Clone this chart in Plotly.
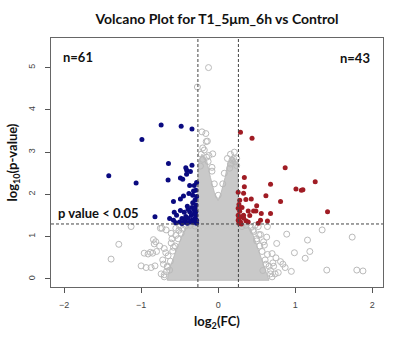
import plotly.graph_objects as go

# Significant down-regulated proteins (log2 FC, -log10 p)
down_fc = [-0.74, -0.48, -0.34, -0.99, -0.645, -0.42, -0.34, -1.42, -1.065, -0.65,
           -0.41, -0.36, -0.41, -0.49, -0.46, -0.37, -0.31, -0.32, -0.29, -0.45,
           -0.49, -0.58, -0.30, -0.33, -0.29, -0.34, -0.31, -0.57, -0.44, -0.37,
           -0.29, -0.82, -0.63, -0.58, -0.54, -0.47, -0.43, -0.39, -0.34, -0.30,
           -0.28, -0.50, -0.44, -0.36, -0.32, -0.28, -0.40, -0.47, -0.55, -0.29,
           -0.35, -0.42, -0.30, -0.40, -0.28, -0.33, -0.38, -0.28, -0.31, -0.49, -0.39]
down_p = [3.64, 3.61, 3.55, 3.30, 2.73, 2.63, 2.69, 2.44, 2.27, 2.34,
          2.58, 2.54, 2.48, 2.39, 2.36, 2.21, 2.21, 2.08, 2.10, 1.96,
          1.89, 1.83, 1.87, 1.80, 1.75, 1.69, 1.63, 1.58, 1.58, 1.59,
          1.59, 1.47, 1.43, 1.39, 1.51, 1.43, 1.39, 1.43, 1.39, 1.43,
          1.39, 1.35, 1.34, 1.35, 1.34, 1.32, 1.32, 1.31, 1.33, 1.50,
          1.50, 1.48, 1.68, 1.72, 1.95, 1.98, 2.02, 2.28, 1.55, 1.62, 1.65]

# Significant up-regulated proteins
up_fc = [0.29, 0.44, 0.87, 0.34, 0.68, 1.26, 1.01, 1.08, 1.10, 0.34,
         0.26, 0.33, 0.62, 0.36, 0.43, 0.81, 0.50, 1.42, 0.26, 0.31,
         0.39, 0.46, 0.49, 0.56, 0.68, 0.26, 0.33, 0.41, 0.55, 0.64,
         0.52, 0.26, 0.29, 0.36, 0.39, 0.27, 0.28, 0.27, 0.30, 0.27,
         0.33, 0.28, 0.30]
up_p = [3.47, 3.33, 2.63, 2.40, 2.24, 2.30, 2.13, 2.10, 2.11, 2.18,
        2.05, 2.03, 1.97, 1.88, 1.89, 1.83, 1.73, 1.59, 1.67, 1.69,
        1.61, 1.61, 1.61, 1.55, 1.55, 1.51, 1.51, 1.50, 1.39, 1.37,
        1.32, 1.39, 1.35, 1.38, 1.35, 1.76, 1.60, 1.44, 1.47, 1.32,
        1.44, 1.86, 1.30]

# Non-significant proteins outside the dense core
ns_fc = [-0.125, -0.27, -0.21, -0.16, -0.155, -0.14, -0.07, -0.15, -0.20, -0.13,
         -0.08, -0.23, 0.18, 0.20, 0.16, 0.22, 0.15, 0.24,
         -1.13, -1.29, -1.39, -1.00, -0.935, -0.87, -0.82, -0.91, -0.85, -0.80,
         -0.84, -0.81, -0.76, -0.75, -0.675, -0.61, -0.96, -0.88, -0.83, -0.73,
         -0.70, -0.68, -0.72, -0.66, -0.63, -0.70, -0.60, -0.55, -0.50, -0.58,
         1.35, 0.89, 1.16, 1.74, 0.76, 0.99, 1.19, 1.13, 0.81, 0.87,
         1.41, 1.80, 1.88, 0.63, 0.64, 0.52, 0.70, 0.75, 0.62, 0.78,
         0.68, 0.58, 0.45, 0.55, 0.60, 0.72, 0.95, 0.50, 0.84,
         # ragged rim of the core
         -0.70, -0.74, -0.67, -0.66, -0.71, -0.62, -0.65, -0.59, -0.56, -0.61,
         -0.52, -0.55, -0.48, -0.46, -0.51, -0.42, -0.36, -0.30,
         0.70, 0.74, 0.68, 0.66, 0.71, 0.61, 0.64, 0.57, 0.54, 0.59,
         0.50, 0.53, 0.46, 0.43, 0.48, 0.36, 0.31,
         -0.22, -0.18, -0.12, -0.20, 0.16, 0.21, 0.12, 0.24,
         -0.08, -0.05, 0.06, 0.08, 0.00]
ns_p = [5.00, 4.54, 3.48, 3.44, 3.25, 3.26, 2.96, 2.88, 2.83, 2.78,
        2.64, 2.67, 2.81, 2.85, 2.72, 2.77, 2.62, 2.68,
        1.24, 0.82, 0.47, 0.31, 0.27, 0.27, 0.31, 0.59, 0.61, 0.65,
        0.93, 0.88, 0.78, 1.20, 1.16, 1.08, 0.61, 0.63, 0.83, 1.20,
        0.72, 0.62, 0.45, 0.30, 0.21, 0.10, 0.95, 1.20, 1.25, 0.75,
        1.16, 1.06, 0.92, 0.99, 0.84, 0.62, 0.65, 0.49, 0.41, 0.27,
        0.21, 0.21, 0.19, 0.99, 1.24, 1.24, 0.60, 0.50, 0.35, 0.15,
        0.12, 0.20, 1.15, 1.05, 0.80, 0.30, 0.18, 0.90, 0.35,
        0.05, 0.12, 0.18, 0.28, 0.35, 0.42, 0.55, 0.66, 0.78, 0.85,
        0.95, 1.03, 1.08, 1.18, 1.15, 1.26, 1.27, 1.25,
        0.05, 0.12, 0.20, 0.30, 0.38, 0.45, 0.58, 0.65, 0.78, 0.88,
        0.95, 1.05, 1.12, 1.22, 1.27, 1.27, 1.24,
        2.95, 3.05, 2.92, 3.10, 2.95, 3.00, 2.85, 2.85,
        2.55, 2.25, 2.25, 2.50, 1.98]

# Outline of the densely packed non-significant core
core_fc = [-0.66, -0.62, -0.56, -0.50, -0.44, -0.40, -0.27, -0.26, -0.25, -0.21,
           -0.15, -0.10, -0.05, 0.00, 0.04, 0.09, 0.13, 0.19,
           0.25, 0.26, 0.26, 0.38, 0.44, 0.50, 0.56, 0.62, 0.66, -0.66]
core_p = [-0.03, 0.30, 0.60, 0.90, 1.15, 1.30, 1.30, 2.50, 2.80, 2.95,
          2.80, 2.40, 2.05, 1.85, 2.05, 2.40, 2.75, 2.90,
          2.70, 2.30, 1.30, 1.30, 1.10, 0.80, 0.50, 0.20, -0.03, -0.03]

fc_cut = 0.263
p_cut = 1.301

x_ticks = [-2, -1, 0, 1, 2]
y_ticks = [0, 1, 2, 3, 4, 5]

grey = "#bababa"
fig = go.Figure()

fig.add_trace(go.Scatter(x=core_fc, y=core_p, mode="lines", fill="toself",
                         fillcolor="#c9c9c9", line=dict(color="#bdbdbd", width=1),
                         hoverinfo="skip", showlegend=False))
fig.add_trace(go.Scatter(x=ns_fc, y=ns_p, mode="markers", showlegend=False,
                         marker=dict(symbol="circle-open", size=6,
                                     color=grey, line=dict(width=1, color=grey))))
fig.add_trace(go.Scatter(x=down_fc, y=down_p, mode="markers", showlegend=False,
                         marker=dict(size=5, color="#0a0a80")))
fig.add_trace(go.Scatter(x=up_fc, y=up_p, mode="markers", showlegend=False,
                         marker=dict(size=5, color="#a01c24")))

dash = dict(color="#444444", width=1, dash="3px,2px")
for xv in (-fc_cut, fc_cut):
    fig.add_shape(type="line", x0=xv, x1=xv, y0=0, y1=1, xref="x", yref="paper", line=dash)
fig.add_shape(type="line", x0=0, x1=1, y0=p_cut, y1=p_cut, xref="paper", yref="y", line=dash)

bold = dict(family="Lato", size=13, color="#111111")
fig.add_annotation(x=-1.82, y=5.25, text="<b>n=61</b>", showarrow=False, font=bold)
fig.add_annotation(x=1.78, y=5.22, text="<b>n=43</b>", showarrow=False, font=bold)
fig.add_annotation(x=-1.55, y=1.56, text="<b>p value < 0.05</b>", showarrow=False, font=bold)

tick_font = dict(family="Liberation Sans", size=9, color="#444444")
fig.update_layout(
    width=393, height=342,
    margin=dict(l=51, r=10, t=38, b=55),
    plot_bgcolor="white", paper_bgcolor="white",
    title=dict(text="<b>Volcano Plot for T1_5μm_6h vs Control</b>",
               x=0.5, xref="paper", y=1 - 19 / 342, yref="container",
               yanchor="middle", font=dict(family="Lato", size=14, color="#111111")),
    xaxis=dict(range=[-2.17, 2.14], tickvals=x_ticks, ticks="outside", ticklen=5,
               tickcolor="#555555", showline=True, mirror=True, linecolor="#666666",
               showgrid=False, zeroline=False, tickfont=tick_font,
               ticklabelstandoff=4,
               title=dict(text="<b>log<sub>2</sub>(FC)</b>", standoff=8,
                          font=dict(family="Lato", size=13, color="#111111"))),
    yaxis=dict(range=[-0.19, 5.70], tickvals=y_ticks, ticks="outside", ticklen=5,
               tickcolor="#555555", showline=True, mirror=True, linecolor="#666666",
               showgrid=False, zeroline=False, tickfont=tick_font, tickangle=-90,
               ticklabelstandoff=6,
               title=dict(text="<b>log<sub>10</sub>(p-value)</b>", standoff=6,
                          font=dict(family="Lato", size=13, color="#111111"))),
)

fig.write_html("out.html")
